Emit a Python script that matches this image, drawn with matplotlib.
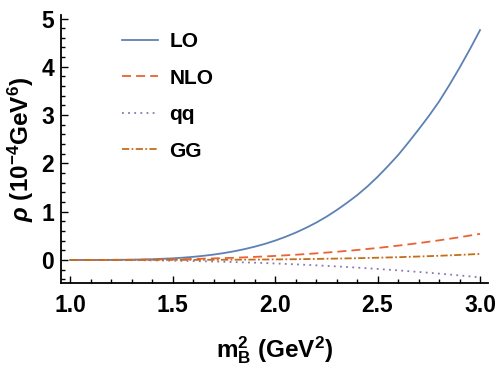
import numpy as np
import matplotlib
matplotlib.use('Agg')
import matplotlib.pyplot as plt
from matplotlib.ticker import MultipleLocator, FormatStrFormatter

# m_B^2 grid (GeV^2) and spectral densities (10^-4 GeV^6)
m2 = [1.0, 1.1, 1.2, 1.3, 1.4, 1.5, 1.6, 1.7, 1.8, 1.9, 2.0,
      2.1, 2.2, 2.3, 2.4, 2.5, 2.6, 2.7, 2.8, 2.9, 3.0]
rho_nlo = [0.0, 0.0002, 0.001, 0.003, 0.007, 0.013, 0.021, 0.032, 0.045, 0.063, 0.083,
           0.108, 0.136, 0.169, 0.206, 0.248, 0.296, 0.348, 0.406, 0.470, 0.54]
rho_qq = [0.0, -0.0004, -0.0018, -0.0046, -0.009, -0.0148, -0.023, -0.032, -0.044, -0.057, -0.073,
          -0.091, -0.111, -0.134, -0.159, -0.186, -0.216, -0.248, -0.283, -0.320, -0.36]
rho_gg = [0.0, 0.0, 0.0, 0.0002, 0.0004, 0.001, 0.0018, 0.003, 0.005, 0.0076, 0.011,
          0.015, 0.021, 0.028, 0.036, 0.046, 0.057, 0.071, 0.086, 0.104, 0.125]

# LO rises steeply, read on a finer grid
m2_lo = [1.0, 1.1, 1.2, 1.3, 1.4, 1.5, 1.55, 1.6, 1.65, 1.7, 1.75, 1.8, 1.85, 1.9, 1.95,
         2.0, 2.05, 2.1, 2.15, 2.2, 2.25, 2.3, 2.35, 2.4, 2.45, 2.5,
         2.55, 2.6, 2.65, 2.7, 2.75, 2.8, 2.85, 2.9, 2.95, 3.0]
rho_lo = [0.0, 0.0001, 0.0012, 0.005, 0.015, 0.033, 0.047, 0.064, 0.085, 0.111, 0.142, 0.179,
          0.223, 0.274, 0.332, 0.40, 0.477, 0.564, 0.662, 0.771, 0.893, 1.03, 1.18, 1.34, 1.52,
          1.72, 1.94, 2.17, 2.43, 2.70, 2.98, 3.28, 3.62, 3.98, 4.36, 4.76]

plt.rcParams['font.family'] = ['Liberation Sans', 'DejaVu Sans']
plt.rcParams['font.weight'] = 'bold'
plt.rcParams['mathtext.fontset'] = 'custom'
plt.rcParams['mathtext.rm'] = 'Liberation Sans:bold'
plt.rcParams['mathtext.bf'] = 'Liberation Sans:bold'
plt.rcParams['mathtext.it'] = 'Liberation Sans:bold:italic'

fig = plt.figure(figsize=(4.98, 3.69), dpi=100)
ax = fig.add_axes([0.1225, 0.233, 0.8575, 0.726])

ax.plot(m2_lo, rho_lo, color='#5E81B5', lw=1.3, label='LO')
ax.plot(m2, rho_nlo, color='#EB6235', lw=1.3, dashes=(5, 2.8), label='NLO')
ax.plot(m2, rho_qq, color='#8778B3', lw=1.3, dashes=(1, 2.4), label='qq')
ax.plot(m2, rho_gg, color='#C56E1A', lw=1.3, dashes=(4, 1.3, 1, 1.3), label='GG')

ax.set_xlim(0.956, 3.039)
ax.set_ylim(-0.478, 5.07)

for side in ['top', 'right']:
    ax.spines[side].set_visible(False)
for side in ['left', 'bottom']:
    ax.spines[side].set_linewidth(1.3)

ax.xaxis.set_major_locator(MultipleLocator(0.5))
ax.xaxis.set_minor_locator(MultipleLocator(0.1))
ax.yaxis.set_major_locator(MultipleLocator(1))
ax.yaxis.set_minor_locator(MultipleLocator(0.2))
ax.tick_params(which='both', direction='in', labelsize=16.5, width=1)
ax.tick_params(which='major', length=5)
ax.tick_params(which='minor', length=3)
ax.tick_params(axis='x', pad=8)
ax.tick_params(axis='y', pad=5)
ax.xaxis.set_major_formatter(FormatStrFormatter('%.1f'))

ax.set_xlabel(r'$\mathregular{m_B^2}$ (GeV$^2$)', fontsize=17.5, fontweight='bold', labelpad=12)
ax.set_ylabel(r'$\rho$ (10$^{-4}$GeV$^6$)', fontsize=17.5, fontweight='bold', labelpad=4)

leg = ax.legend(loc='upper left', bbox_to_anchor=(0.1, 1.006), frameon=False,
                fontsize=15, handlelength=1.7, labelspacing=0.84, handletextpad=0.55)
for t in leg.get_texts():
    t.set_fontweight('bold')

fig.savefig('out.png', dpi=100)
